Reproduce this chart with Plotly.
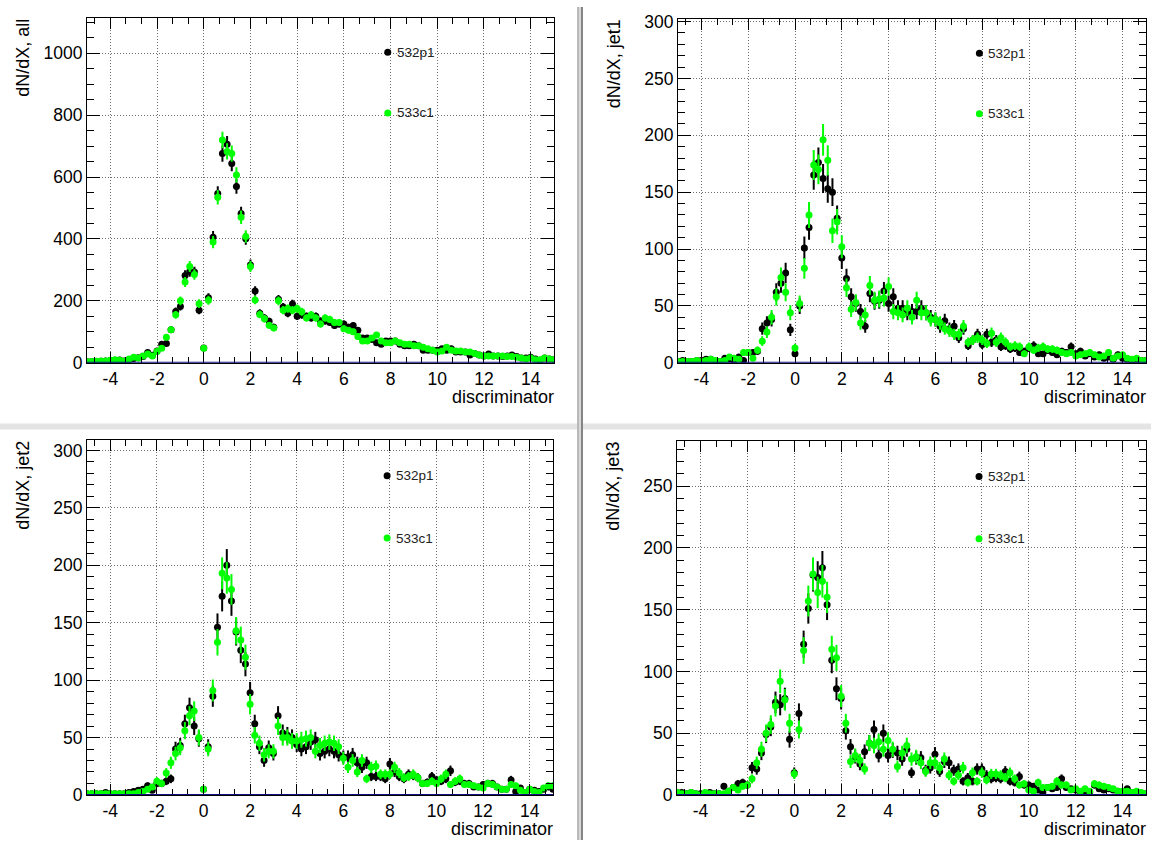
import numpy as np
import plotly.graph_objects as go

W, H = 1151, 850

# histogram bin centres (0.2 wide bins on the discriminator axis)
bin_centers = [round(-5.0 + 0.2 * k, 1) for k in range(101)]

x_tick_vals = [-4, -2, 0, 2, 4, 6, 8, 10, 12, 14]
x_tick_text = ["-4", "-2", "0", "2", "4", "6", "8", "10", "12", "14"]

series_names = ["532p1", "533c1"]

# ---- dN/dX, all ----
all_532p1 = [
    3, 4, 4, 5, 6, 7, 8, 9, 6, 10,
    14, 16, 20, 33, 24, 38, 60, 62, 107, 166,
    182, 282, 295, 293, 170, 48, 210, 406, 547, 676,
    706, 644, 570, 482, 401, 316, 232, 160, 145, 134,
    115, 205, 180, 160, 190, 150, 155, 150, 145, 150,
    135, 135, 130, 120, 125, 125, 115, 120, 105, 80,
    80, 75, 65, 60, 70, 70, 70, 60, 55, 55,
    60, 55, 40, 40, 40, 40, 45, 40, 45, 35,
    35, 35, 25, 30, 25, 22, 28, 22, 22, 20,
    22, 25, 20, 15, 15, 18, 12, 8, 15, 12,
    10,
]
all_533c1 = [
    3, 4, 5, 6, 6, 8, 10, 8, 5, 12,
    18, 15, 22, 28, 22, 36, 47, 82, 107, 155,
    200, 261, 311, 285, 191, 47, 202, 390, 535, 720,
    683, 676, 607, 470, 408, 311, 203, 156, 142, 121,
    112, 200, 170, 175, 170, 175, 165, 145, 155, 145,
    125, 145, 140, 130, 130, 110, 105, 100, 85, 70,
    70, 80, 90, 70, 65, 65, 70, 65, 60, 60,
    55, 55, 50, 45, 40, 35, 38, 50, 40, 38,
    38, 35, 35, 30, 25, 22, 22, 22, 22, 22,
    20, 20, 18, 15, 12, 15, 10, 10, 15, 12,
    10,
]

# ---- dN/dX, jet1 ----
jet1_532p1 = [
    1, 2, 1, 1, 2, 2, 3, 3, 1, 1,
    4, 3, 2, 5, 2, 9, 9, 10, 30, 35,
    38, 62, 70, 79, 29, 8, 50, 101, 119, 165,
    176, 162, 153, 150, 127, 92, 74, 58, 52, 45,
    32, 61, 54, 55, 63, 52, 58, 48, 48, 44,
    45, 45, 48, 44, 40, 38, 32, 37, 30, 32,
    22, 30, 15, 20, 25, 16, 25, 18, 20, 14,
    15, 12, 13, 9, 10, 13, 15, 8, 8, 11,
    9, 7, 10, 9, 14, 8, 10, 6, 8, 5,
    7, 4, 5, 3, 7, 4, 3, 2, 3, 2,
    2,
]
jet1_533c1 = [
    1, 1, 1, 1, 2, 1, 2, 3, 2, 1,
    2, 5, 4, 3, 9, 9, 4, 11, 19, 27,
    40, 58, 75, 62, 44, 13, 52, 83, 130, 174,
    170, 196, 178, 116, 124, 102, 66, 47, 53, 35,
    42, 68, 55, 56, 57, 67, 45, 44, 42, 48,
    40, 55, 44, 44, 38, 38, 35, 30, 28, 25,
    25, 32, 18, 20, 22, 20, 17, 26, 18, 22,
    18, 14, 15, 14, 8, 14, 11, 13, 14, 12,
    12, 11, 9, 8, 9, 6, 7, 8, 9, 7,
    5, 6, 9, 4, 6, 7, 4, 3, 4, 2,
    2,
]

# ---- dN/dX, jet2 ----
jet2_532p1 = [
    1, 1, 1, 1, 2, 1, 1, 1, 1, 2,
    3, 4, 5, 8, 4, 10, 10, 12, 14, 40,
    43, 62, 76, 60, 49, 5, 42, 86, 146, 173,
    200, 169, 142, 126, 114, 89, 62, 42, 30, 41,
    36, 69, 54, 52, 50, 44, 40, 42, 46, 48,
    36, 38, 40, 38, 35, 33, 33, 35, 28, 24,
    28, 16, 16, 16, 14, 27, 20, 16, 14, 18,
    17, 15, 10, 11, 16, 13, 12, 14, 21, 11,
    12, 10, 10, 7, 7, 9, 10, 10, 7, 5,
    5, 13, 3, 6, 2, 5, 4, 3, 5, 7,
    5,
]
jet2_533c1 = [
    1, 1, 1, 1, 1, 1, 1, 1, 1, 1,
    1, 2, 3, 5, 7, 12, 10, 19, 28, 36,
    41, 56, 69, 73, 50, 5, 40, 91, 133, 193,
    189, 179, 143, 135, 120, 79, 52, 45, 35, 38,
    38, 60, 50, 50, 47, 47, 48, 49, 50, 38,
    43, 45, 46, 45, 42, 32, 24, 30, 20, 30,
    14, 24, 25, 18, 18, 18, 24, 19, 15, 16,
    18, 15, 10, 10, 12, 10, 14, 18, 9, 12,
    14, 9, 9, 8, 7, 6, 10, 9, 7, 5,
    5, 9, 8, 4, 2, 5, 3, 2, 6, 8,
    8,
]

# ---- dN/dX, jet3 ----
jet3_532p1 = [
    2, 2, 1, 2, 1, 1, 1, 2, 1, 1,
    7, 3, 6, 9, 10, 8, 22, 21, 34, 49,
    55, 75, 73, 78, 45, 18, 66, 122, 151, 178,
    176, 184, 154, 109, 86, 78, 52, 39, 31, 25,
    35, 42, 53, 32, 50, 32, 36, 34, 29, 37,
    18, 30, 30, 20, 22, 33, 19, 27, 26, 20,
    21, 11, 14, 11, 21, 21, 16, 13, 14, 13,
    19, 11, 10, 15, 8, 8, 7, 4, 2, 6,
    5, 6, 13, 6, 5, 4, 2, 3, 2, 8,
    5, 4, 5, 4, 3, 2, 5, 2, 2, 1,
    1,
]
jet3_533c1 = [
    2, 1, 1, 2, 1, 0, 2, 1, 1, 1,
    1, 3, 6, 4, 7, 8, 13, 26, 37, 50,
    57, 72, 92, 77, 58, 17, 53, 117, 157, 179,
    164, 173, 160, 118, 111, 80, 58, 27, 32, 28,
    21, 42, 40, 43, 37, 44, 37, 23, 34, 40,
    29, 31, 26, 19, 26, 26, 22, 29, 16, 11,
    16, 22, 10, 18, 11, 18, 12, 17, 17, 16,
    14, 18, 13, 8, 9, 4, 3, 10, 6, 6,
    7, 11, 8, 8, 4, 5, 3, 5, 3, 9,
    8, 7, 6, 5, 3, 3, 3, 2, 3, 2,
    1,
]

panels = [
    dict(title="dN/dX, all", s1=all_532p1, s2=all_533c1,
         ymax=1115, ydtick=200, yminor=50, px=(87, 554), py=(11, 363)),
    dict(title="dN/dX, jet1", s1=jet1_532p1, s2=jet1_533c1,
         ymax=302.5, ydtick=50, yminor=10, px=(678, 1146), py=(12, 363)),
    dict(title="dN/dX, jet2", s1=jet2_532p1, s2=jet2_533c1,
         ymax=309, ydtick=50, yminor=10, px=(87, 553), py=(442, 804)),
    dict(title="dN/dX, jet3", s1=jet3_532p1, s2=jet3_533c1,
         ymax=286.5, ydtick=50, yminor=10, px=(677, 1146), py=(443, 804)),
]

colors = ["#000000", "#00ff00"]
FONT = "Liberation Sans, Arial, Helvetica, sans-serif"


def fx(p):
    return p / W


def fy(p):
    return 1 - p / H


fig = go.Figure()
shapes = []
annotations = []
layout_axes = {}

for i, p in enumerate(panels, start=1):
    xa = "x" if i == 1 else f"x{i}"
    ya = "y" if i == 1 else f"y{i}"
    for vals, name, col in zip((p["s1"], p["s2"]), series_names, colors):
        # statistical sqrt(N) errors on each bin content
        err = np.sqrt(np.asarray(vals, dtype=float))
        fig.add_trace(go.Scatter(
            x=bin_centers, y=vals, mode="markers", name=name,
            xaxis=xa, yaxis=ya, showlegend=False, cliponaxis=True,
            marker=dict(symbol="circle", size=7, color=col, line=dict(width=0)),
            error_y=dict(type="data", array=err, visible=True,
                         thickness=2, width=0, color=col),
        ))

    x0, x1 = p["px"]
    ytop, ybot = p["py"]
    common = dict(
        showline=True, linecolor="#000000", linewidth=1, mirror="allticks",
        ticks="inside", tickcolor="#000000", tickwidth=1,
        showgrid=True, gridcolor="#6e6e6e", gridwidth=1, griddash="1px,2px",
        zeroline=False, tickfont=dict(family=FONT, size=17.5, color="#000000"),
    )
    layout_axes["xaxis" if i == 1 else f"xaxis{i}"] = dict(
        common, domain=[fx(x0), fx(x1)], anchor=ya, range=[-5, 15],
        tickmode="array", tickvals=x_tick_vals, ticktext=x_tick_text,
        ticklen=11,
        minor=dict(ticks="inside", ticklen=6, tickcolor="#000000",
                   tick0=0, dtick=2 / 3, showgrid=False),
    )
    layout_axes["yaxis" if i == 1 else f"yaxis{i}"] = dict(
        common, domain=[fy(ybot), fy(ytop)], anchor=xa, range=[0, p["ymax"]],
        tick0=0, dtick=p["ydtick"], ticklen=13,
        minor=dict(ticks="inside", ticklen=7, tickcolor="#000000",
                   tick0=0, dtick=p["yminor"], showgrid=False),
    )

    # zero baseline of the histograms
    shapes.append(dict(type="line", xref=xa, yref=ya, x0=-5, x1=15, y0=0, y1=0,
                       line=dict(color="#101080", width=2), layer="above"))

    # axis titles
    annotations.append(dict(
        text=p["title"], textangle=-90, xref="paper", yref="paper",
        x=fx(x0 - 64), y=fy(ytop - 1), xanchor="center", yanchor="top",
        showarrow=False, font=dict(family=FONT, size=18, color="#000000")))
    annotations.append(dict(
        text="discriminator", xref="paper", yref="paper",
        x=fx(x1 + 1), y=fy(ybot + 35), xanchor="right", yanchor="middle",
        showarrow=False, borderpad=0,
        font=dict(family=FONT, size=18, color="#000000")))

    # key: marker + run label, placed at fixed fractions of the frame
    for frac, name, col in zip((0.90, 0.724), series_names, colors):
        mx = x0 + 0.644 * (x1 - x0)
        my = ybot - frac * (ybot - ytop)
        shapes.append(dict(type="circle", xref="paper", yref="paper",
                           xsizemode="pixel", ysizemode="pixel",
                           xanchor=fx(mx), yanchor=fy(my),
                           x0=-3.5, x1=3.5, y0=-3.5, y1=3.5,
                           fillcolor=col, line=dict(width=0), layer="above"))
        annotations.append(dict(
            text=name, xref="paper", yref="paper", x=fx(mx + 7), y=fy(my),
            xanchor="left", yanchor="middle", showarrow=False,
            font=dict(family=FONT, size=13.5, color="#222222")))

# pad separators
shapes.append(dict(type="rect", xref="paper", yref="paper",
                   x0=0, x1=1, y0=fy(431), y1=fy(425),
                   fillcolor="#e4e4e4", line=dict(width=0), layer="below"))
shapes.append(dict(type="rect", xref="paper", yref="paper",
                   x0=fx(577), x1=fx(583), y0=0, y1=1,
                   fillcolor="#d8d8d8", line=dict(width=0), layer="above"))
shapes.append(dict(type="line", xref="paper", yref="paper",
                   x0=fx(578), x1=fx(578), y0=0, y1=1,
                   line=dict(color="#9a9a9a", width=1), layer="above"))
shapes.append(dict(type="line", xref="paper", yref="paper",
                   x0=fx(582), x1=fx(582), y0=0, y1=1,
                   line=dict(color="#6a6a6a", width=1.5), layer="above"))

fig.update_layout(
    width=W, height=H, autosize=False,
    margin=dict(l=0, r=0, t=0, b=0),
    paper_bgcolor="#ffffff", plot_bgcolor="#ffffff",
    showlegend=False, shapes=shapes, annotations=annotations,
    font=dict(family=FONT, color="#000000"),
    **layout_axes,
)

fig.write_html("out.html")
